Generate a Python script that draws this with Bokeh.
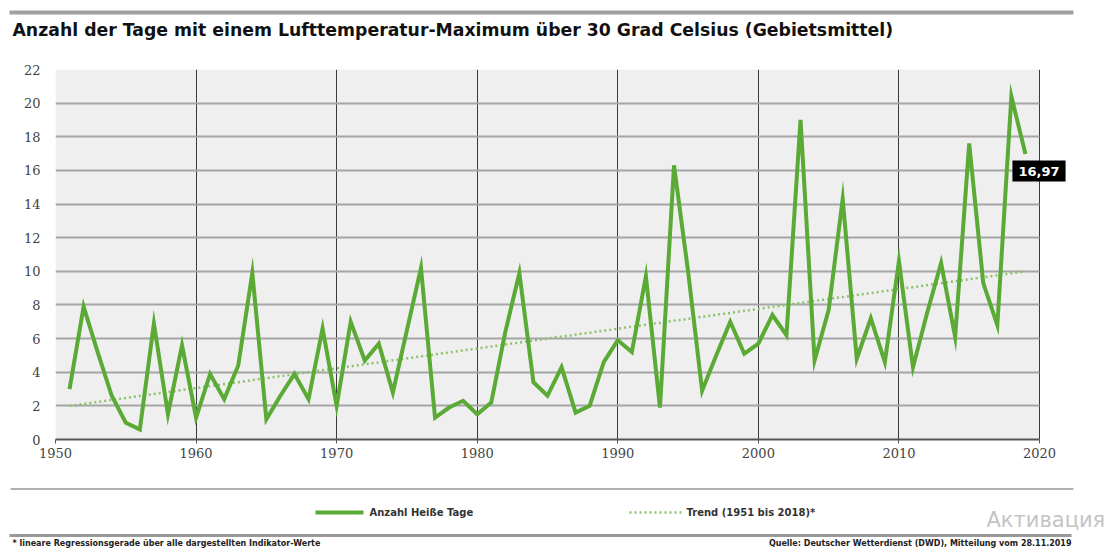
from bokeh.plotting import figure
from bokeh.layouts import column
from bokeh.models import Range1d, FixedTicker, Label, BoxAnnotation
from bokeh.core.properties import value
from bokeh.embed import file_html
from bokeh.resources import INLINE

# ---------------- data ----------------
years = list(range(1951, 2020))
hot_days = [
    3.0, 7.9, 5.2, 2.6, 1.0, 0.6, 6.9, 1.5, 5.6, 1.3,      # 1951-1960
    3.9, 2.4, 4.4, 9.9, 1.2, 2.6, 3.9, 2.4, 6.6, 2.0,      # 1961-1970
    7.0, 4.7, 5.7, 2.8, 6.5, 10.2, 1.3, 1.9, 2.3, 1.5,     # 1971-1980
    2.2, 6.4, 9.9, 3.4, 2.6, 4.3, 1.6, 2.0, 4.6, 5.9,      # 1981-1990
    5.2, 9.7, 1.9, 16.3, 10.0, 2.9, 5.0, 7.0, 5.1, 5.7,    # 1991-2000
    7.4, 6.2, 19.0, 4.7, 7.7, 14.3, 4.8, 7.2, 4.6, 10.6,   # 2001-2010
    4.3, 7.5, 10.5, 6.1, 17.6, 9.3, 6.8, 20.4, 16.97,      # 2011-2019
]
trend_years = [1951, 2019]
trend_values = [2.0, 10.0]
x_ticks = [1950, 1960, 1970, 1980, 1990, 2000, 2010, 2020]
y_ticks = [0, 2, 4, 6, 8, 10, 12, 14, 16, 18, 20, 22]
x_start, x_end = 1950, 2020
y_start, y_end = 0, 22

TITLE = "Anzahl der Tage mit einem Lufttemperatur-Maximum über 30 Grad Celsius (Gebietsmittel)"
LEG1 = "Anzahl Heiße Tage"
LEG2 = "Trend (1951 bis 2018)*"
FOOT_L = "* lineare Regressionsgerade über alle dargestellten Indikator-Werte"
FOOT_R = "Quelle: Deutscher Wetterdienst (DWD), Mitteilung vom 28.11.2019"
WATERMARK = "Активация"

GREEN = "#5aaa35"
TREND = "#8cc26a"
W = 1110

def blank(y0, y1):
    f = figure(width=W, height=y1 - y0, x_range=Range1d(0, W), y_range=Range1d(y1, y0),
               output_backend="svg", toolbar_location=None, x_axis_type=None, y_axis_type=None,
               min_border=0, outline_line_color=None, frame_align=False)
    f.grid.visible = False
    return f

# ---------------- header ----------------
pa = blank(0, 58)
pa.segment(x0=[9], y0=[12], x1=[1073], y1=[12], line_color="#a0a0a0", line_width=4)
pa.text(x=[12], y=[29], text=[TITLE], text_font=value("DejaVu Sans"), text_font_style="bold",
        text_font_size="17.3px", text_baseline="middle", text_color="#111111")

# ---------------- main chart ----------------
p = figure(width=W, height=422, x_range=Range1d(x_start, 2022.49), y_range=Range1d(y_start, y_end),
           output_backend="svg", toolbar_location=None,
           min_border_left=55, min_border_right=36, min_border_top=11, min_border_bottom=41,
           background_fill_color="white", border_fill_color="white", outline_line_color=None,
           frame_align=False)

p.add_layout(BoxAnnotation(left=x_start, right=x_end, bottom=y_start, top=y_end,
                           fill_color="#efefef", fill_alpha=1.0, line_color=None, level="image"))

p.xaxis.ticker = FixedTicker(ticks=x_ticks)
p.yaxis.ticker = FixedTicker(ticks=y_ticks)
p.xaxis.bounds = (x_start, x_end)
p.xgrid.grid_line_color = "#3a3a3a"
p.xgrid.grid_line_width = 1
p.ygrid.grid_line_color = "#a5a5a5"
p.ygrid.grid_line_width = 2
p.ygrid.cross_bounds = (x_start, x_end)

for ax in (p.xaxis, p.yaxis):
    ax.major_label_text_font = "DejaVu Serif"
    ax.major_label_text_font_size = "13px"
    ax.major_label_text_color = "#444444"
    ax.minor_tick_line_color = None

p.xaxis.axis_line_color = "#555555"
p.xaxis.axis_line_width = 2
p.xaxis.major_tick_line_color = "#555555"
p.xaxis.major_tick_in = 0
p.xaxis.major_tick_out = 4
p.xaxis.major_label_standoff = 4

p.yaxis.axis_line_color = None
p.yaxis.major_tick_line_color = None
p.yaxis.major_tick_out = 0
p.yaxis.major_tick_in = 0
p.yaxis.major_label_standoff = 15

p.line(trend_years, trend_values, line_color=TREND, line_width=2.5, line_dash="2 3")
p.line(years, hot_days, line_color=GREEN, line_width=4, line_join="miter")

last_txt = f"{hot_days[-1]:.2f}".replace(".", ",")
p.add_layout(Label(x=years[-1], y=hot_days[-1], x_offset=-13, y_offset=-17, text=last_txt,
                   text_color="white", text_font="DejaVu Sans", text_font_style="bold",
                   text_font_size="13px", text_align="left", text_baseline="middle",
                   background_fill_color="black", padding=6))

# ---------------- footer ----------------
pc = blank(480, 552)
pc.segment(x0=[10], y0=[488.5], x1=[1073], y1=[488.5], line_color="#b0b0b0", line_width=2)
pc.segment(x0=[9], y0=[535], x1=[1071], y1=[535], line_color="#9a9a9a", line_width=3)
pc.segment(x0=[315], y0=[512], x1=[363], y1=[512], line_color=GREEN, line_width=4)
pc.segment(x0=[629], y0=[512], x1=[681], y1=[512], line_color=TREND, line_width=2.5, line_dash="2 3")
pc.text(x=[369, 686], y=[512, 512], text=[LEG1, LEG2], text_font=value("DejaVu Sans"),
        text_font_style="bold", text_font_size="10px", text_baseline="middle", text_color="#333333")
pc.text(x=[986], y=[519], text=[WATERMARK], text_font=value("DejaVu Sans"),
        text_font_size="21px", text_baseline="middle", text_color="#c4c4c4")
pc.text(x=[12], y=[543], text=[FOOT_L], text_font=value("DejaVu Sans"), text_font_style="bold",
        text_font_size="8px", text_baseline="middle", text_color="#222222")
pc.text(x=[1071], y=[543], text=[FOOT_R], text_font=value("DejaVu Sans"), text_font_style="bold",
        text_font_size="8px", text_baseline="middle", text_align="right", text_color="#222222")

layout = column(pa, p, pc, spacing=0)
open("out.html", "w").write(file_html(layout, INLINE))
